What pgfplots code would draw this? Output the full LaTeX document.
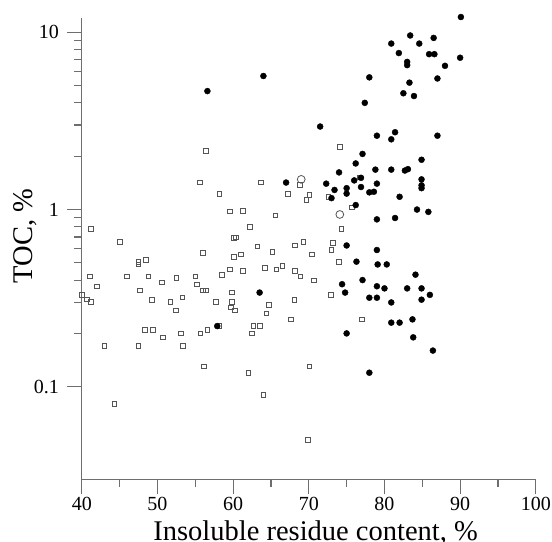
\documentclass[border=0pt]{standalone}
\usepackage{pgfplots}
\pgfplotsset{compat=1.18}
\usepackage{fontspec}
\setmainfont{Liberation Serif}
\definecolor{axgray}{RGB}{110,110,110}
\definecolor{sqgray}{RGB}{85,85,85}
\begin{document}
\begin{tikzpicture}
\useasboundingbox (-81.8bp,-62.6bp) rectangle (470.2bp,479.4bp);
\begin{axis}[
  scale only axis,
  width=454bp, height=461.1bp,
  xmin=40, xmax=100,
  ymode=log, ymin=0.03, ymax=12,
  axis lines*=left,
  axis line style={axgray, line width=1.2bp},
  every tick/.style={axgray, line width=1.1bp},
  tick align=outside,
  major tick length=15bp,
  minor tick length=7.5bp,
  xtick={40,50,60,70,80,90,100},
  xticklabels={40,50,60,70,80,90,100},
  minor x tick num=1,
  ytick={0.1,1,10},
  yticklabels={0.1,1,10},
  tick label style={font=\fontsize{20bp}{24bp}\selectfont, text=black},
  xticklabel style={inner sep=0pt, anchor=north, yshift=-2.6bp},
  yticklabel style={inner sep=0pt, anchor=east, xshift=-7.7bp},
  xlabel={Insoluble residue content, \%},
  ylabel={TOC, \%},
  label style={font=\fontsize{28.5bp}{32bp}\selectfont},
  xlabel style={at={(axis description cs:0.515,0)}, anchor=base, yshift=-61.5bp},
  ylabel style={at={(axis description cs:0,0.528)}, anchor=center, yshift=57bp},
  clip=false,
]
% open squares
\addplot[only marks, mark=square, mark size=2.3bp, mark options={draw=sqgray, line width=0.8bp, fill=white}] coordinates {
(40.0,0.330) (40.65,0.311) (41.2,0.300) (41.1,0.419) (41.2,0.778) (42.0,0.369)
(43.0,0.170) (44.3,0.080) (45.0,0.659) (46.0,0.419) (47.5,0.508) (47.5,0.490)
(48.5,0.519) (47.7,0.349) (48.8,0.419) (47.5,0.170) (48.3,0.210) (49.4,0.210)
(49.3,0.310) (50.6,0.389) (50.7,0.190) (51.7,0.300) (52.5,0.410) (52.4,0.270)
(53.1,0.200) (53.3,0.320) (53.4,0.170) (55.0,0.419) (55.2,0.379) (55.6,1.42)
(56.0,0.569) (56.0,0.350) (56.4,0.350) (56.4,2.14) (55.7,0.200) (56.6,0.210)
(56.1,0.130) (57.7,0.300) (58.2,0.220) (58.2,1.23) (58.5,0.429) (59.6,0.977)
(59.6,0.459) (59.8,0.340) (59.8,0.300) (59.7,0.280) (60.2,0.270) (60.1,0.539)
(60.1,0.690) (60.4,0.696) (61.0,0.559) (61.3,0.986) (61.3,0.449) (62.2,0.799)
(62.0,0.120) (62.5,0.200) (62.7,0.220) (63.5,0.220) (63.2,0.618) (63.7,1.42)
(64.2,0.468) (64.4,0.260) (64.0,0.090) (64.7,0.289) (65.2,0.577) (65.6,0.929)
(65.7,0.459) (66.5,0.479) (67.2,1.23) (67.6,0.240) (68.1,0.310) (68.2,0.627)
(68.2,0.449) (68.8,1.38) (68.9,0.419) (69.3,0.659) (69.7,1.13) (70.1,1.21)
(70.1,0.130) (69.9,0.050) (70.4,0.559) (70.7,0.399) (72.6,1.18) (72.9,0.329)
(73.0,0.591) (73.2,0.650) (74.0,0.508) (74.1,2.25) (74.3,0.778) (75.7,1.03)
(77.0,0.240) (76.7,1.52)
};
% open circles
\addplot[only marks, mark=o, mark size=3.9bp, mark options={draw=sqgray, line width=0.8bp}] coordinates {
(69.0,1.48) (74.1,0.938)
};
% filled circles
\addplot[only marks, mark=*, mark size=3bp, mark options={draw=black, fill=black}] coordinates {
(56.6,4.66) (64.0,5.67) (90.1,12.2) (83.4,9.6) (86.5,9.3) (80.9,8.64) (84.6,8.64)
(81.9,7.64) (85.9,7.53) (86.6,7.53) (90.0,7.19) (83.0,6.81) (83.0,6.53) (88.0,6.47)
(78.0,5.57) (87.0,5.49) (83.3,5.20) (82.5,4.53) (83.9,4.37) (77.4,4.00) (71.5,2.94)
(79.0,2.61) (81.4,2.73) (80.9,2.49) (87.0,2.61) (77.1,2.06) (76.2,1.82) (84.9,1.91)
(74.0,1.62) (78.8,1.68) (80.9,1.68) (82.7,1.66) (83.1,1.69) (67.0,1.42) (72.3,1.40)
(76.0,1.46) (76.9,1.51) (79.0,1.40) (84.9,1.48) (84.9,1.37) (84.9,1.32) (73.4,1.29)
(75.0,1.32) (75.0,1.23) (76.9,1.34) (78.0,1.25) (78.6,1.26) (73.0,1.16) (82.0,1.18)
(76.2,1.06) (84.3,1.00) (85.8,0.97) (79.0,0.88) (81.4,0.896) (75.0,0.627) (79.0,0.591)
(76.3,0.508) (79.1,0.490) (80.3,0.490) (84.1,0.429) (77.1,0.400) (74.4,0.379)
(79.0,0.369) (80.0,0.359) (83.0,0.359) (84.9,0.359) (74.8,0.340) (63.5,0.340)
(86.0,0.330) (78.0,0.318) (79.0,0.318) (84.9,0.310) (80.9,0.299) (83.7,0.240)
(80.9,0.230) (82.0,0.230) (57.9,0.220) (75.0,0.200) (83.8,0.190) (86.4,0.160)
(78.0,0.120)
};
\end{axis}
\end{tikzpicture}
\end{document}
